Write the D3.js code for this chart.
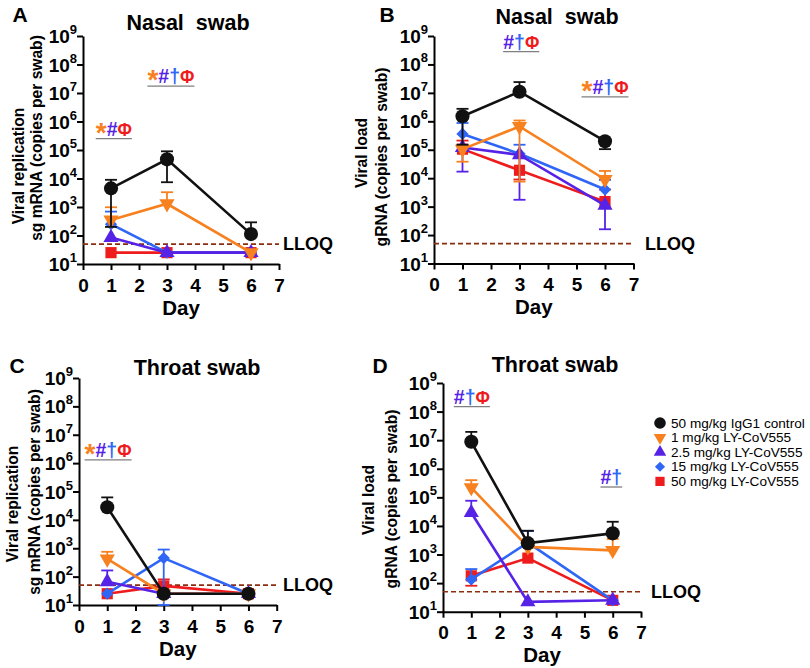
<!DOCTYPE html>
<html>
<head>
<meta charset="utf-8">
<script src="https://cdn.jsdelivr.net/npm/d3@7"></script>
<style>
  body { margin: 0; background: #fff; }
  text { font-family: "Liberation Sans", Arial, sans-serif; font-weight: bold; }
</style>
</head>
<body>
<div id="chart"></div>
<script>
// groups, in legend order
const groups = ["50 mg/kg IgG1 control", "1 mg/kg LY-CoV555", "2.5 mg/kg LY-CoV555",
    "15 mg/kg LY-CoV555", "50 mg/kg LY-CoV555"];
const colors = ["#111111", "#f7801f", "#5522e6", "#2f66f6", "#ee1c1c"];
const shapes = ["circle", "down", "up", "diamond", "square"];
const days = [1, 3, 6];
const xTicks = [0, 1, 2, 3, 4, 5, 6, 7];
const yExps = [1, 2, 3, 4, 5, 6, 7, 8, 9];
const lloq = 50;

// A: nasal swab, sg mRNA (copies per swab)
const aMean = [[4500, 47000, 112], [350, 1300, 25], [85, 25, 25], [250, 25, 25], [25, 25, 25]];
const aHi = [[9000, 90000, 290], [980, 3300, null], [null, null, null], [690, null, null], [null, null, null]];
const aLo = [[200, 7400, null], [null, null, null], [null, null, null], [null, null, null], [null, null, null]];

// B: nasal swab, gRNA
const bMean = [[1500000, 11000000, 200000], [105000, 660000, 9000], [120000, 66000, 1100], [360000, 72000, 4000], [105000, 19000, 1500]];
const bHi = [[2750000, 24000000, null], [null, 1070000, 18000], [null, null, null], [870000, 150000, 8700], [210000, null, 4000]];
const bLo = [[150000, null, 105000], [38000, 7600, null], [17000, 1740, 160], [null, null, null], [null, 9000, null]];

// C: throat swab, sg mRNA
const cMean = [[28000, 25, 25], [420, 25, 25], [66, 25, 25], [25, 450, 25], [25, 47, 25]];
const cHi = [[62000, null, null], [750, null, null], [165, null, null], [null, 900, null], [null, 80, null]];
const cLo = [[null, null, null], [null, null, null], [null, null, null], [null, 10, null], [null, null, null]];

// D: throat swab, gRNA
const dMean = [[8800000, 2500, 5500], [220000, 1850, 1400], [29000, 22, 25], [135, 2600, 25], [180, 750, 25]];
const dHi = [[19500000, 6800, 14000], [400000, null, 3500], [76000, null, null], [310, 6600, null], [null, null, null]];
const dLo = [[null, null, null], [null, null, null], [null, null, null], [null, null, null], [81, null, null]];

// significance marks: [day, value of underline, symbols]
const aSig = [[1.1, 250000, "*#Φ"], [3.14, 17500000, "*#†Φ"]];
const bSig = [[3.06, 280000000, "#†Φ"], [6.0, 7200000, "*#†Φ"]];
const cSig = [[1.03, 1300000, "*#†Φ"]];
const dSig = [[1.02, 150000000, "#†Φ"], [5.95, 230000, "#†"]];

const symColor = { "*": "#f7801f", "#": "#5522e6", "†": "#2f66f6", "Φ": "#ee1c1c" };
const symSize = { "*": 28, "#": 19.5, "†": 19.5, "Φ": 17.5 };

const svg = d3.select("#chart").append("svg")
    .attr("width", 810).attr("height", 668)
    .style("background", "#fff");

const panels = [
    { letter: "A", title: "Nasal  swab", mean: aMean, hi: aHi, lo: aLo, sig: aSig,
      x0: 83, x1: 279, yTop: 36, yBot: 264, titlePos: [188, 23], letterPos: [20, 14],
      lab1: "Viral replication", lab2: "sg mRNA (copies per swab)", labPos: [[18, 166], [36, 138]], lloqX: 283 },
    { letter: "B", title: "Nasal  swab", mean: bMean, hi: bHi, lo: bLo, sig: bSig,
      x0: 434, x1: 633.5, yTop: 36, yBot: 263.5, titlePos: [557, 17], letterPos: [387, 14],
      lab1: "Viral load", lab2: "gRNA (copies per swab)", labPos: [[361, 153], [381, 157]], lloqX: 645 },
    { letter: "C", title: "Throat swab", mean: cMean, hi: cHi, lo: cLo, sig: cSig,
      x0: 79, x1: 276.7, yTop: 378, yBot: 605, titlePos: [197, 368], letterPos: [17, 365],
      lab1: "Viral replication", lab2: "sg mRNA (copies per swab)", labPos: [[12, 504], [34, 492]], lloqX: 283 },
    { letter: "D", title: "Throat swab", mean: dMean, hi: dHi, lo: dLo, sig: dSig,
      x0: 443, x1: 641, yTop: 383, yBot: 611.7, titlePos: [555, 365], letterPos: [380, 365],
      lab1: "Viral load", lab2: "gRNA (copies per swab)", labPos: [[368, 500], [391, 499]], lloqX: 651 }
];

function marker(shape, size) {
    if (shape == "circle") return d3.symbol().type(d3.symbolCircle).size(size * 1.25)();
    if (shape == "square") return d3.symbol().type(d3.symbolSquare).size(size)();
    if (shape == "diamond") return d3.symbol().type(d3.symbolSquare).size(size * 0.6)();
    return d3.symbol().type(d3.symbolTriangle).size(size * 0.8)();
}
function markerRot(shape) {
    if (shape == "diamond") return 45;
    if (shape == "down") return 180;
    return 0;
}

panels.forEach(function (p) {
    const x = d3.scaleLinear().domain([0, 7]).range([p.x0, p.x1]);
    const y = d3.scaleLog().domain([10, 1e9]).range([p.yBot, p.yTop]);
    const g = svg.append("g");

    // panel letter and title
    g.append("text").attr("x", p.letterPos[0]).attr("y", p.letterPos[1])
        .attr("text-anchor", "middle").attr("dominant-baseline", "central")
        .style("font-size", "21px").text(p.letter);
    g.append("text").attr("x", p.titlePos[0]).attr("y", p.titlePos[1])
        .attr("text-anchor", "middle").attr("dominant-baseline", "central")
        .style("font-size", "21.5px").style("white-space", "pre").text(p.title);

    // y axis label (two lines)
    [p.lab1, p.lab2].forEach(function (t, i) {
        g.append("text")
            .attr("transform", "translate(" + p.labPos[i][0] + "," + p.labPos[i][1] + ") rotate(-90)")
            .attr("text-anchor", "middle").attr("dominant-baseline", "central")
            .style("font-size", "15.6px").text(t);
    });

    // x axis
    const xAxis = g.append("g").attr("transform", "translate(0," + p.yBot + ")")
        .call(d3.axisBottom(x).tickValues(xTicks).tickSize(6).tickSizeOuter(0).tickFormat(d3.format("d")));
    xAxis.select(".domain").attr("stroke", "#000").attr("stroke-width", 2);
    xAxis.selectAll(".tick line").attr("stroke", "#000").attr("stroke-width", 2);
    xAxis.selectAll(".tick text").attr("y", 21).attr("dy", null)
        .attr("dominant-baseline", "central")
        .style("font-size", "19px").style("font-family", "Liberation Sans, Arial, sans-serif")
        .style("font-weight", "bold").attr("fill", "#000");
    g.append("text").attr("x", x(3.5)).attr("y", p.yBot + 43)
        .attr("text-anchor", "middle").attr("dominant-baseline", "central")
        .style("font-size", "20.5px").text("Day");

    // y axis
    const yAxis = g.append("g").attr("transform", "translate(" + p.x0 + ",0)")
        .call(d3.axisLeft(y).tickValues(yExps.map(function (e) { return Math.pow(10, e); }))
            .tickSize(6).tickSizeOuter(0).tickFormat(""));
    yAxis.select(".domain").attr("stroke", "#000").attr("stroke-width", 2);
    yAxis.selectAll(".tick line").attr("stroke", "#000").attr("stroke-width", 2);
    yExps.forEach(function (e) {
        const t = g.append("text").attr("x", p.x0 - 6).attr("y", y(Math.pow(10, e)))
            .attr("text-anchor", "end").attr("dominant-baseline", "central");
        t.append("tspan").style("font-size", "19px").text("10");
        t.append("tspan").style("font-size", "13px").attr("dy", -7).text(e);
    });

    // LLOQ
    g.append("line").attr("x1", p.x0).attr("x2", x(7))
        .attr("y1", y(lloq)).attr("y2", y(lloq))
        .attr("stroke", "#8a2d10").attr("stroke-width", 1.6).attr("stroke-dasharray", "5,3");
    g.append("text").attr("x", p.lloqX).attr("y", y(lloq))
        .attr("dominant-baseline", "central").style("font-size", "18px").text("LLOQ");

    // series, drawn from the highest dose to the control so black sits on top
    [4, 3, 2, 1, 0].forEach(function (s) {
        const col = colors[s];
        const pts = days.map(function (d, i) {
            return { d: d, v: p.mean[s][i], hi: p.hi[s][i], lo: p.lo[s][i] };
        });
        const sg = g.append("g");
        pts.forEach(function (pt) {
            [pt.hi, pt.lo].forEach(function (e) {
                if (e == null) return;
                sg.append("line").attr("x1", x(pt.d)).attr("x2", x(pt.d))
                    .attr("y1", y(pt.v)).attr("y2", y(e))
                    .attr("stroke", col).attr("stroke-width", 1.8);
                sg.append("line").attr("x1", x(pt.d) - 6).attr("x2", x(pt.d) + 6)
                    .attr("y1", y(e)).attr("y2", y(e))
                    .attr("stroke", col).attr("stroke-width", 1.8);
            });
        });
        sg.append("path").datum(pts)
            .attr("d", d3.line().x(function (d) { return x(d.d); }).y(function (d) { return y(d.v); }))
            .attr("fill", "none").attr("stroke", col).attr("stroke-width", 2.6);
        sg.selectAll("path.m").data(pts).enter().append("path").attr("class", "m")
            .attr("d", marker(shapes[s], 125))
            .attr("transform", function (d) {
                return "translate(" + x(d.d) + "," + y(d.v) + ") rotate(" + markerRot(shapes[s]) + ")";
            })
            .attr("fill", col);
    });

    // significance marks
    p.sig.forEach(function (sgn) {
        const cx = x(sgn[0]), ly = y(sgn[1]);
        const t = g.append("text").attr("x", cx).attr("y", ly - 3).attr("text-anchor", "middle");
        Array.from(sgn[2]).forEach(function (ch) {
            t.append("tspan").attr("fill", symColor[ch]).style("font-size", symSize[ch] + "px").text(ch);
        });
        // the star sits lower than the other symbols
        t.selectAll("tspan").attr("dy", function (d, i, nodes) {
            const ch = nodes[i].textContent;
            if (ch == "*") return 6;
            if (i > 0 && nodes[i - 1].textContent == "*") return -6;
            return 0;
        });
        const w = t.node().getComputedTextLength();
        g.append("line").attr("x1", cx - w / 2).attr("x2", cx + w / 2)
            .attr("y1", ly).attr("y2", ly)
            .attr("stroke", "#7f7f7f").attr("stroke-width", 1.3);
    });
});

// legend
const legend = svg.append("g").attr("transform", "translate(660,423)");
groups.forEach(function (name, i) {
    const row = legend.append("g").attr("transform", "translate(0," + (i * 14.6) + ")");
    row.append("path").attr("d", marker(shapes[i], 85))
        .attr("transform", "rotate(" + markerRot(shapes[i]) + ")")
        .attr("fill", colors[i]);
    row.append("text").attr("x", 11).attr("y", 0).attr("dominant-baseline", "central")
        .style("font-size", "13.6px").style("font-weight", "normal").text(name);
});
</script>
</body>
</html>
